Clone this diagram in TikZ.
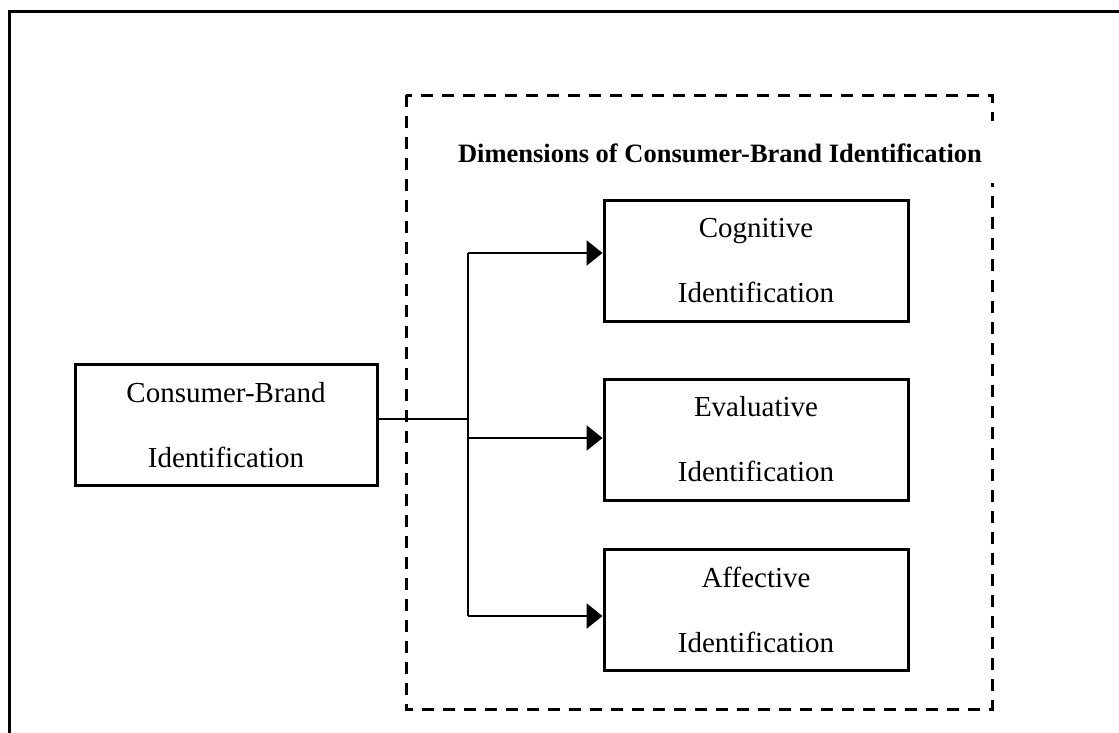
\documentclass[tikz,border=0pt]{standalone}
\usepackage{fontspec}
\setmainfont{Liberation Serif}
\usetikzlibrary{arrows.meta}
\begin{document}
\begin{tikzpicture}[x=1pt,y=-1pt,
  boxnode/.style={draw, line width=3pt, minimum width=302pt, minimum height=121pt, inner sep=0pt,
    align=center, font=\fontsize{29}{65}\selectfont},
  conn/.style={line width=2.8pt},
  arr/.style={line width=2.8pt, -{Triangle[length=16pt,width=25pt]}},
  dashbox/.style={line width=3pt, dash pattern=on 12pt off 9pt},
  frame/.style={line width=3.4pt}]
\useasboundingbox (0,0) rectangle (1119,732);
% outer frame (right and bottom lie outside the picture)
\draw[frame] (9.5,740) -- (9.5,11.5) -- (1130,11.5);
% dashed group
\draw[dashbox] (406,95) rectangle (992,709);
\fill[white] (440,121) rectangle (998,183);
\node[font=\bfseries\fontsize{26.5}{30}\selectfont, anchor=base] (title) at (720,162) {Dimensions of Consumer-Brand Identification};
% boxes
\node[boxnode] (cb) at (226,425) {Consumer-Brand\\Identification};
\node[boxnode, minimum width=304pt] (cog) at (756,261) {Cognitive\\Identification};
\node[boxnode, minimum width=304pt] (eva) at (756,439.5) {Evaluative\\Identification};
\node[boxnode, minimum width=304pt] (aff) at (756,610) {Affective\\Identification};
% connectors
\coordinate (jt) at (468,253);
\coordinate (jm) at (468,419);
\coordinate (jb) at (468,616);
\draw[conn] (cb.east |- jm) -- (jm);
\draw[conn] (jt) -- (jb);
\draw[arr] (jt) -- (cog.west |- jt);
\draw[arr] (468,438) -- (eva.west |- 0,438);
\draw[arr] (jb) -- (aff.west |- jb);
\end{tikzpicture}
\end{document}
